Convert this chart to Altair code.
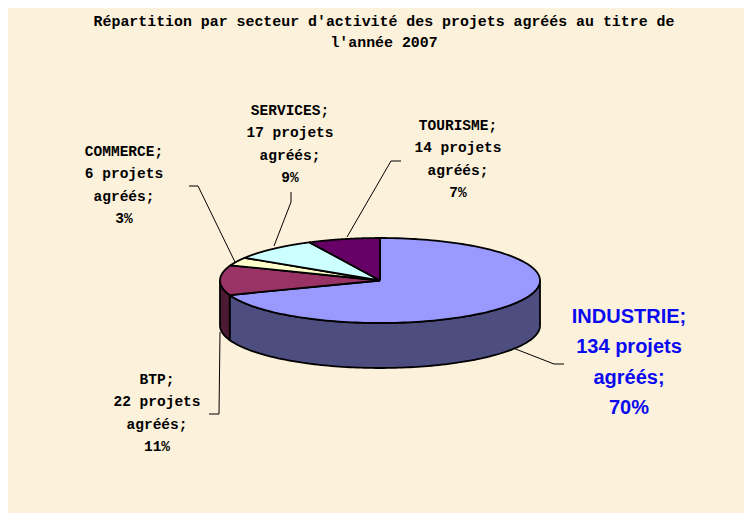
import numpy as np
import pandas as pd
import altair as alt

FONT = "Liberation Mono"
W, H = 736, 505
CX, CY = 372, 272.5          # pie centre inside the plot area, px
A, B, D = 160, 42.5, 45      # ellipse semi-axes and depth, px

sectors = ["INDUSTRIE", "BTP", "COMMERCE", "SERVICES", "TOURISME"]
projects = [134, 22, 6, 17, 14]
top_colors = ["#9999FF", "#993366", "#FFFFCC", "#CCFFFF", "#660066"]
side_colors = ["#4D4D80", "#4D1A33", "#808066", "#668080", "#330033"]

title_lines = ["Répartition par secteur d'activité des projets agréés au titre de",
               "l'année 2007"]

small_labels = [
    (["SERVICES;", "17 projets", "agréés;", "9%"], 290, 111),
    (["TOURISME;", "14 projets", "agréés;", "7%"], 458, 126),
    (["COMMERCE;", "6 projets", "agréés;", "3%"], 124, 152),
    (["BTP;", "22 projets", "agréés;", "11%"], 157, 380),
]
big_label = ["INDUSTRIE;", "134 projets", "agréés;", "70%"]

leaders = [
    [(347, 237), (391, 161), (401, 161)],
    [(274, 246), (291, 202), (291, 192)],
    [(235, 262), (198, 186), (189, 186)],
    [(220, 332), (219, 414), (209, 414)],
    [(513, 348), (554, 364), (564, 364)],
]

xs = alt.Scale(domain=[-CX / A, (W - CX) / A], nice=False, zero=False)
ys = alt.Scale(domain=[-(H - CY) / B, CY / B], nice=False, zero=False)
X = alt.X("x:Q", scale=xs, axis=None)
Y = alt.Y("y:Q", scale=ys, axis=None)

total = sum(projects)
edges = np.concatenate([[0], np.cumsum(projects)]) / total * 2 * np.pi
layers = []

# side walls (front half of the drum only)
for k in range(len(sectors)):
    a0, a1 = max(edges[k], np.pi / 2), min(edges[k + 1], 3 * np.pi / 2)
    if a1 <= a0:
        continue
    t = np.linspace(a0, a1, 120)
    df = pd.DataFrame({"x": np.sin(t), "y": np.cos(t), "y2": np.cos(t) - D / B})
    layers.append(alt.Chart(df).mark_area(color=side_colors[k], stroke="black", strokeWidth=1.8).encode(
        x=X, y=Y, y2="y2:Q"))

# top faces
for k in range(len(sectors)):
    t = np.linspace(edges[k], edges[k + 1], 160)
    px = np.concatenate([[0], np.sin(t), [0]])
    py = np.concatenate([[0], np.cos(t), [0]])
    df = pd.DataFrame({"x": px, "y": py, "i": np.arange(len(px))})
    layers.append(alt.Chart(df).mark_line(fill=top_colors[k], stroke="black", strokeWidth=1.8,
                                          strokeJoin="round").encode(
        x=X, y=Y, order="i:Q"))

# leader lines
for pts in leaders:
    for (x0, y0), (x1, y1) in zip(pts[:-1], pts[1:]):
        layers.append(alt.Chart(pd.DataFrame({"a": [0]})).mark_rule(color="black", strokeWidth=1).encode(
            x=alt.value(x0 - 8), x2=alt.value(x1 - 8), y=alt.value(y0 - 8), y2=alt.value(y1 - 8)))


def text_layer(lines, cx, top, step, size, color="black", family=FONT):
    df = pd.DataFrame({"t": lines, "i": range(len(lines))})
    return alt.Chart(df).transform_calculate(
        py=f"{top - 8} + datum.i * {step}"
    ).mark_text(font=family, fontSize=size, fontWeight="bold", color=color, align="center",
                baseline="middle").encode(
        x=alt.value(cx - 8), y=alt.Y("py:Q", scale=None, axis=None), text="t:N")


layers.append(text_layer(title_lines, 384, 22, 21, 14.9))
for lines, cx, top in small_labels:
    layers.append(text_layer(lines, cx, top, 22.3, 14.5))
layers.append(text_layer(big_label, 629, 317, 30.3, 20, color="#0A0AF0", family="Liberation Sans"))

chart = alt.layer(*layers).properties(
    width=W, height=H, background="#FCF1DA", padding=0
).configure_view(stroke=None)

chart.save("out.html", embed_options={"renderer": "svg", "actions": False})
